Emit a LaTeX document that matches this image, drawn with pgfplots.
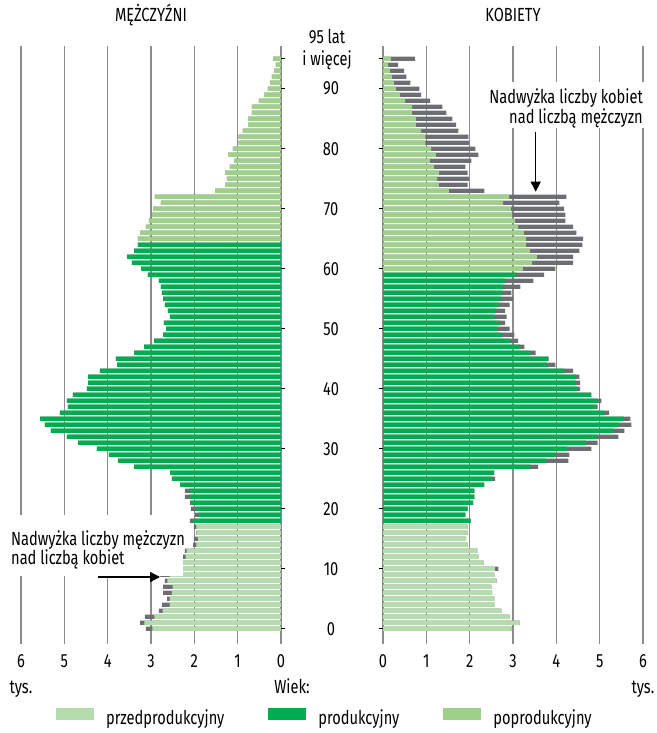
\documentclass[border=0pt]{standalone}
\usepackage{pgfplots}
\pgfplotsset{compat=1.18}
\usepackage{pgfplotstable}
\usetikzlibrary{arrows.meta}
\usepackage{fontspec}
\setmainfont{Fira Sans}[FakeStretch=0.77]

\definecolor{preC}{HTML}{B5DCAC}
\definecolor{prodC}{HTML}{00AC50}
\definecolor{postC}{HTML}{9FD08A}
\definecolor{surC}{HTML}{6D6E71}
\definecolor{gridC}{HTML}{8C8C8C}

% age, men (thousands), women (thousands)
\pgfplotstableread{
age m w
0 3.12 2.97
1 3.25 3.15
2 3.14 2.92
3 2.82 2.73
4 2.75 2.57
5 2.63 2.57
6 2.72 2.52
7 2.72 2.50
8 2.68 2.62
9 2.79 2.57
10 2.58 2.66
11 2.45 2.32
12 2.40 2.20
13 2.22 2.18
14 2.03 1.95
15 2.01 1.92
16 1.96 1.95
17 2.01 1.95
18 2.10 2.02
19 1.98 1.90
20 2.08 1.95
21 2.10 2.08
22 2.22 2.11
23 2.22 2.11
24 2.33 2.34
25 2.52 2.59
26 2.56 2.57
27 3.39 3.58
28 3.76 4.28
29 3.97 4.30
30 4.25 4.81
31 4.68 4.95
32 4.94 5.43
33 5.31 5.57
34 5.45 5.73
35 5.56 5.71
36 5.10 5.22
37 4.92 4.95
38 4.94 5.04
39 4.80 4.81
40 4.48 4.55
41 4.45 4.55
42 4.45 4.53
43 4.18 4.39
44 3.78 3.98
45 3.81 3.82
46 3.39 3.52
47 3.16 3.26
48 2.93 3.12
49 2.72 3.03
50 2.65 2.92
51 2.70 2.82
52 2.56 2.85
53 2.61 2.82
54 2.68 2.92
55 2.72 3.00
56 2.75 2.96
57 2.77 3.17
58 2.82 3.47
59 3.07 3.72
60 3.23 3.98
61 3.44 4.39
62 3.55 4.39
63 3.39 4.53
64 3.30 4.60
65 3.30 4.62
66 3.25 4.46
67 3.12 4.39
68 3.05 4.21
69 2.98 4.21
70 2.95 4.18
71 2.77 4.07
72 2.91 4.23
73 1.52 2.34
74 1.29 1.95
75 1.25 1.99
76 1.29 1.95
77 1.18 1.90
78 1.08 2.04
79 1.22 2.20
80 1.11 2.13
81 0.98 1.99
82 0.98 1.97
83 0.88 1.74
84 0.76 1.69
85 0.76 1.60
86 0.67 1.46
87 0.67 1.37
88 0.51 1.09
89 0.39 0.88
90 0.30 0.84
91 0.25 0.63
92 0.21 0.54
93 0.16 0.49
94 0.12 0.35
95 0.18 0.74
}\popdata

\pgfplotsset{
  pyr/.style={
    scale only axis, width=260pt, height=594pt, anchor=south west,
    ymin=-1.88, ymax=97.12,
    axis line style={draw=none},
    xmajorgrids, grid style={gridC, line width=1.1pt},
    major tick length=8pt, tick align=center,
    xtick style={gridC, line width=1.1pt},
    ytick style={black, line width=0.9pt},
    xtick pos=left,
    xticklabel style={yshift=-4pt},
    /pgf/number format/assume math mode=true,
    title style={at={(axis description cs:0.5,1)}, anchor=base, yshift=18.7pt},
    xlabel={tys.},
  },
  bars/.style={xbar, bar shift=0pt, bar width=0.68, draw=none, forget plot},
}

\begin{document}
\fontsize{19}{22}\selectfont
\begin{tikzpicture}
\useasboundingbox (0pt,0pt) rectangle (656pt,733pt);

% ---------------- men ----------------
\begin{axis}[pyr,
  at={(21pt,93pt)},
  xmin=-6, xmax=0,
  xtick={-6,-5,...,0}, xticklabels={6,5,4,3,2,1,0},
  ytick={0,10,...,90,95}, yticklabels={},
  ytick pos=right,
  title={MĘŻCZYŹNI},
  xlabel style={at={(axis description cs:0,0)}, anchor=base, yshift=-53.3pt},
  legend columns=3,
  legend style={at={(axis description cs:0.1346,-0.1322)}, anchor=west,
    draw=none, fill=none, inner sep=0pt,
    /tikz/every odd column/.append style={column sep=10pt},
    /tikz/every even column/.append style={column sep=42pt}},
  legend image code/.code={\fill[#1] (0pt,-1pt) rectangle (38pt,11pt);},
]
\addplot[bars, fill=surC] table[x expr=-\thisrow{m}, y=age] {\popdata};
\addplot[bars, fill=preC, restrict y to domain=0:17]
  table[x expr={-min(\thisrow{m},\thisrow{w})}, y=age] {\popdata};
\addplot[bars, fill=prodC, restrict y to domain=18:64]
  table[x expr={-min(\thisrow{m},\thisrow{w})}, y=age] {\popdata};
\addplot[bars, fill=postC, restrict y to domain=65:95]
  table[x expr={-min(\thisrow{m},\thisrow{w})}, y=age] {\popdata};
\addlegendimage{fill=preC, draw=none}
\addlegendentry{przedprodukcyjny}
\addlegendimage{fill=prodC, draw=none}
\addlegendentry{produkcyjny}
\addlegendimage{fill=postC, draw=none}
\addlegendentry{poprodukcyjny}
\end{axis}

% ---------------- women ----------------
\begin{axis}[pyr,
  at={(383pt,93pt)},
  xmin=0, xmax=6,
  xtick={0,1,...,6}, xticklabels={0,1,2,3,4,5,6},
  ytick={0,10,...,90},
  yticklabels={0,10,20,30,40,50,60,70,80,90},
  extra y ticks={95},
  extra y tick labels={{95 lat\\i więcej}},
  extra y tick style={yticklabel style={yshift=9pt, xshift=-4pt}},
  ytick pos=left, yticklabel pos=left,
  yticklabel style={anchor=center, align=center, xshift=-48pt},
  title={KOBIETY},
  xlabel style={at={(axis description cs:1,0)}, anchor=base, yshift=-53.3pt},
]
\addplot[bars, fill=surC] table[x=w, y=age] {\popdata};
\addplot[bars, fill=preC, restrict y to domain=0:17]
  table[x expr={min(\thisrow{m},\thisrow{w})}, y=age] {\popdata};
\addplot[bars, fill=prodC, restrict y to domain=18:59]
  table[x expr={min(\thisrow{m},\thisrow{w})}, y=age] {\popdata};
\addplot[bars, fill=postC, restrict y to domain=60:95]
  table[x expr={min(\thisrow{m},\thisrow{w})}, y=age] {\popdata};
\end{axis}

% "Wiek:" label
\node[anchor=base, inner sep=0pt] at (292pt,39.7pt) {Wiek:};

% annotation: surplus of men
\fill[white] (4pt,157pt) rectangle (183pt,218pt);
\node[anchor=base west, inner sep=0pt] at (11pt,187.3pt) {Nadwyżka liczby mężczyzn};
\node[anchor=base west, inner sep=0pt] at (11pt,168pt) {nad liczbą kobiet};
\draw[line width=1.3pt, -{Triangle[length=10pt,width=10pt]}] (98pt,156pt) -- (160pt,156pt);

% annotation: surplus of women
\fill[white] (490pt,605pt) rectangle (652pt,651pt);
\node[anchor=base east, inner sep=0pt] at (643pt,629.7pt) {Nadwyżka liczby kobiet};
\node[anchor=base east, inner sep=0pt] at (643pt,609.7pt) {nad liczbą mężczyzn};
\draw[line width=1.3pt, -{Triangle[length=10pt,width=10pt]}] (535.7pt,601.3pt) -- (535.7pt,541.3pt);
\end{tikzpicture}
\end{document}
